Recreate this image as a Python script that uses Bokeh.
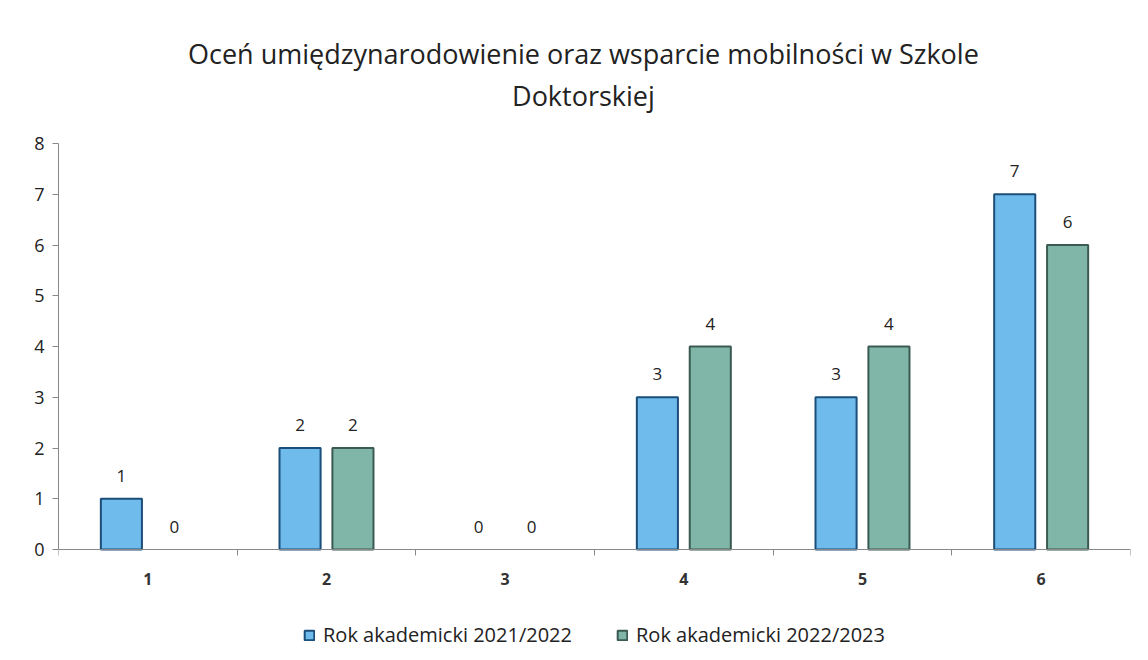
from bokeh.plotting import figure
from bokeh.models import ColumnDataSource, FixedTicker, Legend, LegendItem, Label
from bokeh.transform import dodge
from bokeh.core.properties import value
from bokeh.embed import file_html
from bokeh.resources import INLINE

categories = [1, 2, 3, 4, 5, 6]
series_2021 = [1, 2, 0, 3, 3, 7]
series_2022 = [0, 2, 0, 4, 4, 6]
series_names = ["Rok akademicki 2021/2022", "Rok akademicki 2022/2023"]
y_ticks = [0, 1, 2, 3, 4, 5, 6, 7, 8]
title_lines = ["Oceń umiędzynarodowienie oraz wsparcie mobilności w Szkole", "Doktorskiej"]

FONT = "Open Sans"
BLUE_FILL, BLUE_LINE = "#6FBBEC", "#1B4E78"
GREEN_FILL, GREEN_LINE = "#80B6A7", "#3A5A52"

src = ColumnDataSource(dict(
    x=categories, a=series_2021, b=series_2022,
    a_lbl=[str(v) for v in series_2021], b_lbl=[str(v) for v in series_2022],
    a_alpha=[1 if v > 0 else 0 for v in series_2021],
    b_alpha=[1 if v > 0 else 0 for v in series_2022],
))

# The frame covers the whole page height: title above 8 and legend below 0 live inside it.
p = figure(
    frame_width=1072, frame_height=660,
    x_range=(0.5, 6.5), y_range=(-2.187, 10.818),
    output_backend="svg", toolbar_location=None,
    min_border_left=58, min_border_right=18, min_border_top=0, min_border_bottom=0,
)
p.outline_line_color = None
p.xgrid.grid_line_color = None
p.ygrid.grid_line_color = None

off = 0.148
w = 0.23
r1 = p.vbar(x=dodge("x", -off, range=p.x_range), top="a", width=w, source=src,
            fill_color=BLUE_FILL, line_color=BLUE_LINE, line_width=2, line_alpha="a_alpha")
r2 = p.vbar(x=dodge("x", off, range=p.x_range), top="b", width=w, source=src,
            fill_color=GREEN_FILL, line_color=GREEN_LINE, line_width=2, line_alpha="b_alpha")

p.text(x=dodge("x", -off, range=p.x_range), y="a", text="a_lbl", source=src,
       text_font=value(FONT), text_font_size="17px", text_color="#222",
       text_align="center", text_baseline="middle", y_offset=-23)
p.text(x=dodge("x", off, range=p.x_range), y="b", text="b_lbl", source=src,
       text_font=value(FONT), text_font_size="17px", text_color="#222",
       text_align="center", text_baseline="middle", y_offset=-23)

xa = p.xaxis[0]
xa.fixed_location = 0
xa.ticker = FixedTicker(ticks=categories, minor_ticks=[c + 0.5 for c in [0] + categories])
xa.major_tick_out = 0
xa.major_tick_in = 0
xa.minor_tick_out = 6
xa.minor_tick_in = 0
xa.minor_tick_line_color = "#888"
xa.axis_line_color = "#888"
xa.major_label_text_font = FONT
xa.major_label_text_font_size = "16px"
xa.major_label_text_font_style = "bold"
xa.major_label_text_color = "#333"
xa.major_label_standoff = 17

ya = p.yaxis[0]
ya.ticker = FixedTicker(ticks=y_ticks, minor_ticks=[])
ya.bounds = (min(y_ticks), max(y_ticks))
ya.major_tick_out = 6
ya.major_tick_in = 0
ya.major_tick_line_color = "#888"
ya.axis_line_color = "#888"
ya.major_label_text_font = FONT
ya.major_label_text_font_size = "18px"
ya.major_label_text_color = "#222"
ya.major_label_standoff = 8

for txt, yy in zip(title_lines, [9.773, 8.946]):
    p.add_layout(Label(x=3.438, y=yy, text=txt, text_font=FONT, text_font_size="27px",
                       text_color="#222", text_align="center", text_baseline="middle"))

legend = Legend(items=[LegendItem(label=series_names[0], renderers=[r1], index=1),
                       LegendItem(label=series_names[1], renderers=[r2], index=1)],
                orientation="horizontal", location="bottom_center",
                label_text_font=FONT, label_text_font_size="20px", label_text_color="#222",
                glyph_width=12, glyph_height=12, spacing=44, label_standoff=8, padding=4,
                border_line_color=None, background_fill_alpha=0, margin=12)
p.add_layout(legend, "center")

open("out.html", "w").write(file_html(p, INLINE))
